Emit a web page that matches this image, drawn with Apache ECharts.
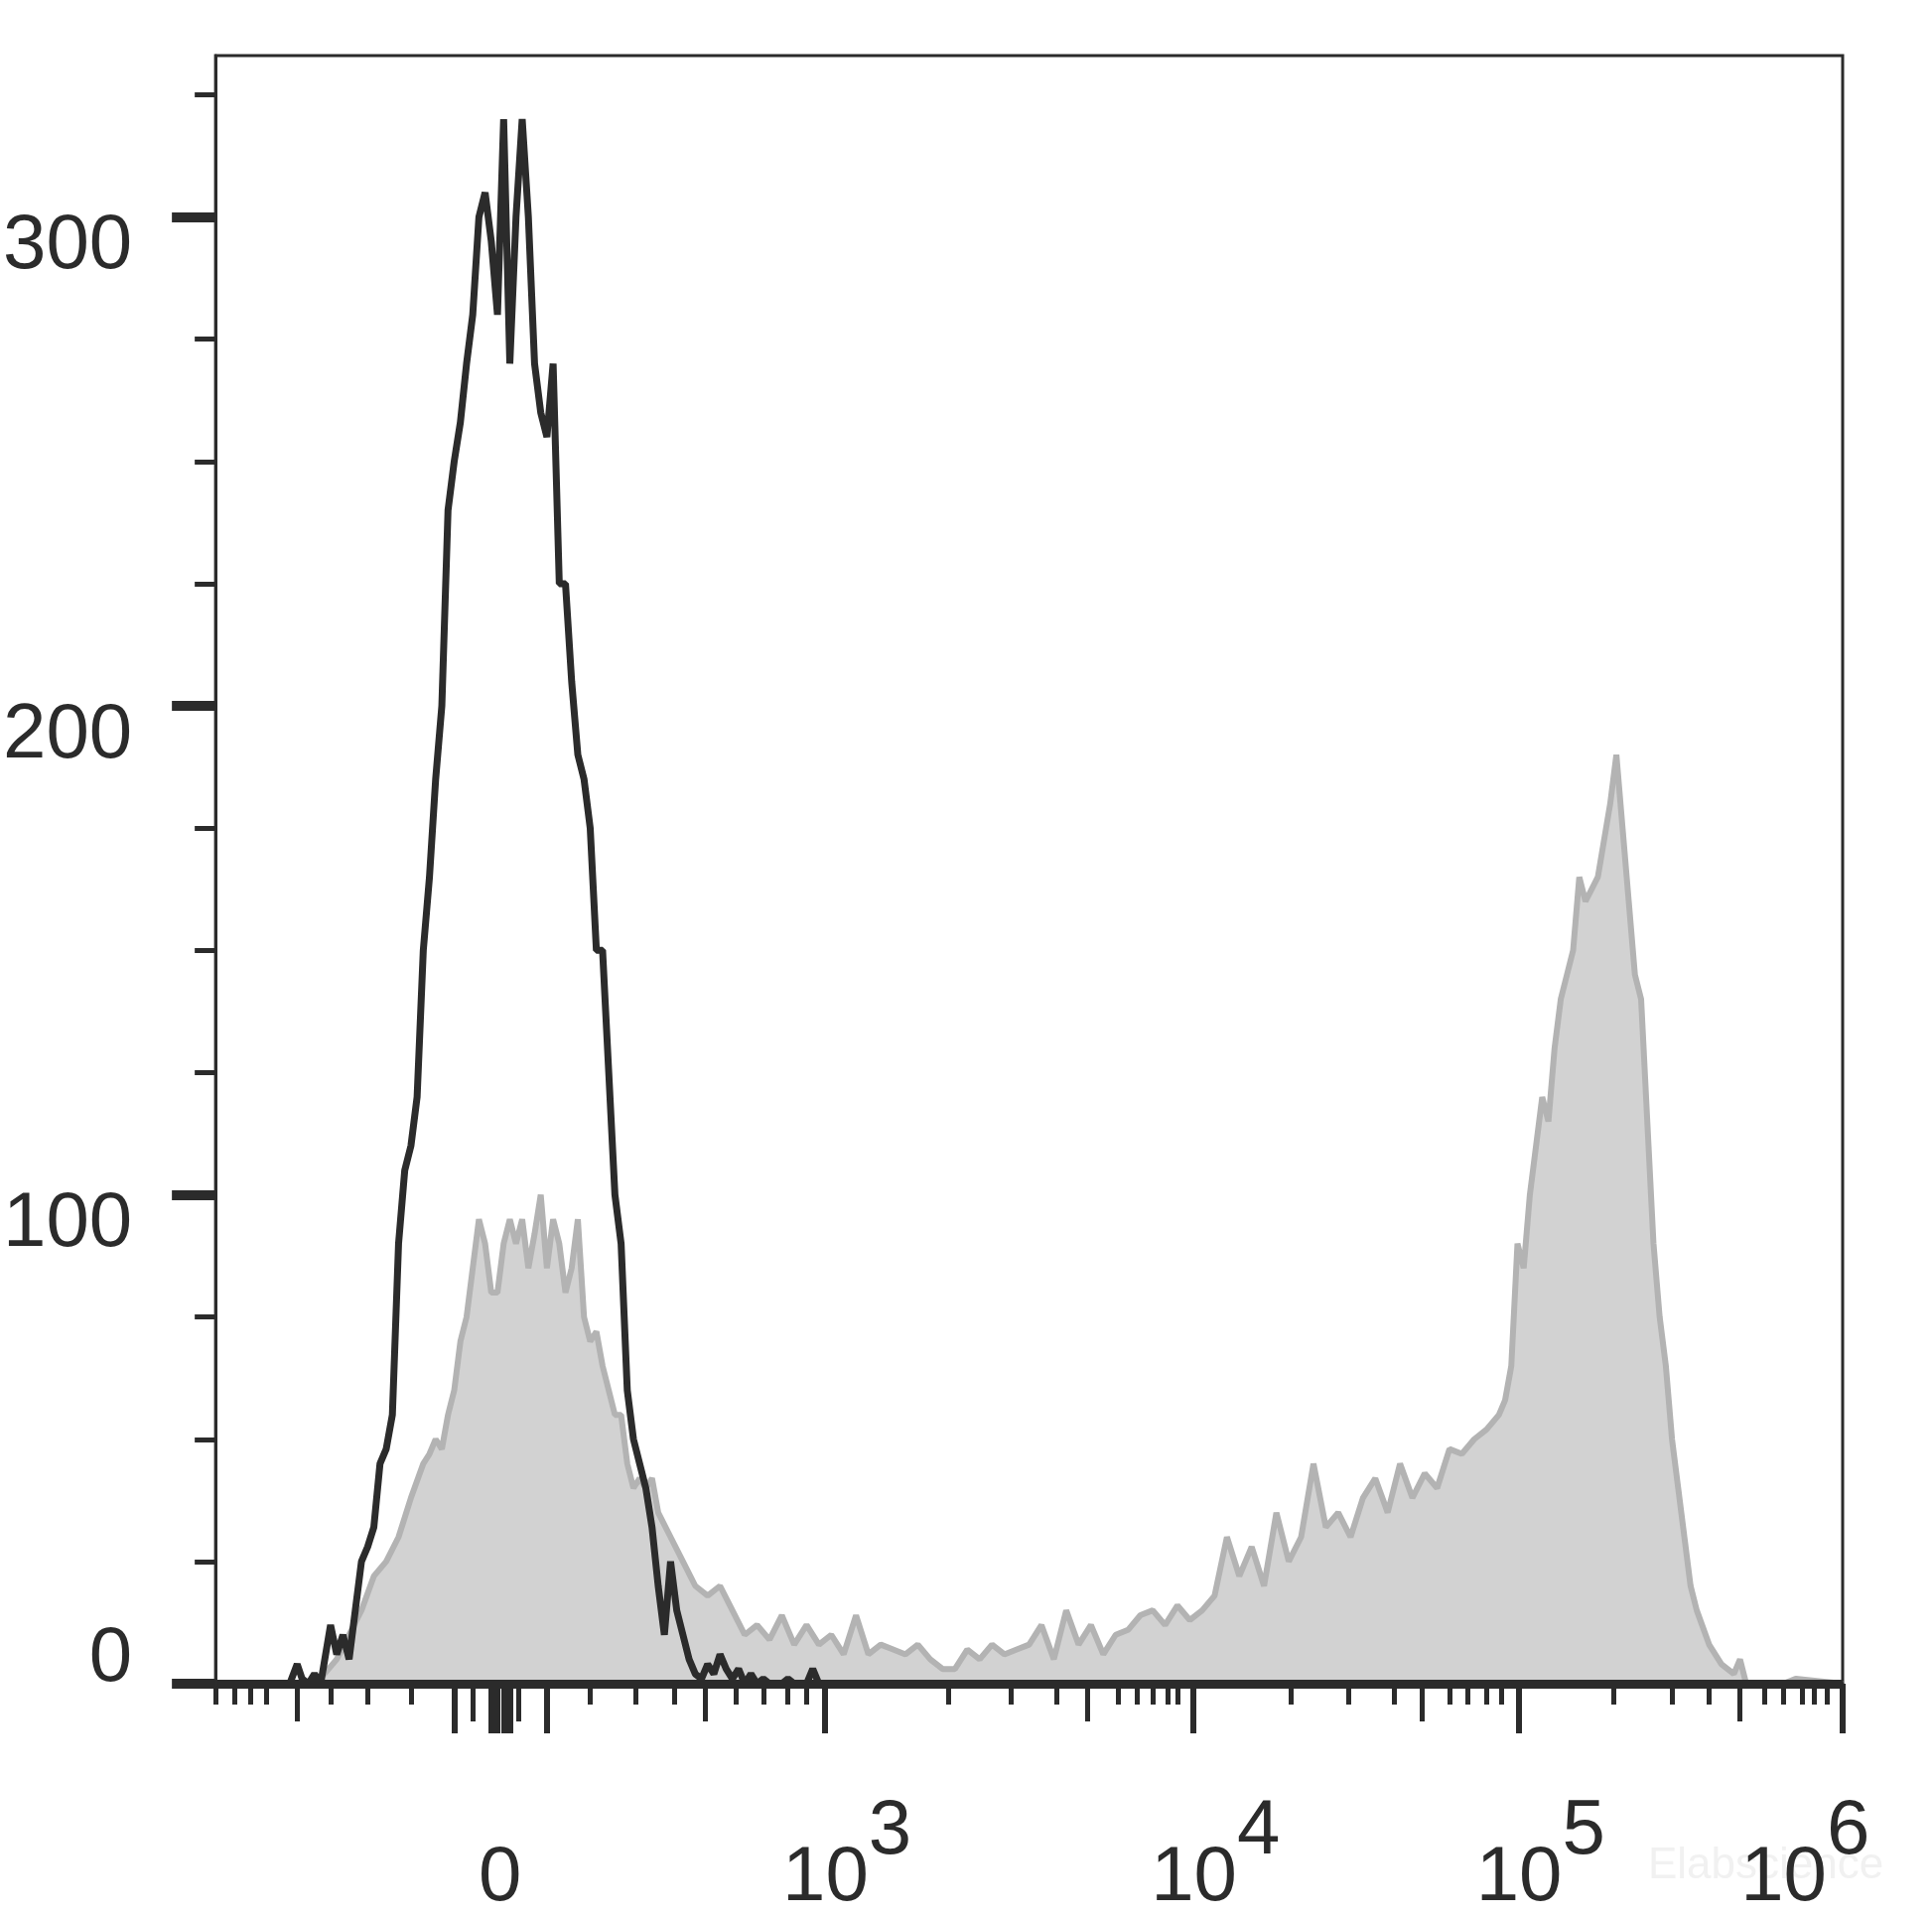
<!DOCTYPE html>
<html><head><meta charset="utf-8">
<script src="https://cdn.jsdelivr.net/npm/echarts@6/dist/echarts.min.js"></script>
<style>html,body{margin:0;padding:0;background:#fff}#c{width:1946px;height:1932px}</style>
</head><body><div id="c"></div>
<script>
// x in channel units (0..1316), y = event count
const blackX = [0,60,66,70,75,80,85,93,98,103,108,113,118,123,128,133,138,143,148,153,158,163,168,173,178,183,188,193,198,203,208,213,218,223,228,233,238,243,248,253,258,263,268,273,278,283,288,293,298,303,308,313,318,323,328,333,338,343,348,353,358,363,368,373,378,383,388,393,398,403,408,413,418,423,428,433,438,443,448,453,458,463,468,473,478,483,488,493,498,503,508,513,518,523,528,1316];
const blackY = [0,0,4,1,0,2,0,12,6,10,5,15,25,28,32,45,48,55,90,105,110,120,150,165,185,200,240,250,258,270,280,300,305,295,280,320,270,300,320,300,270,260,255,270,225,225,205,190,185,175,150,150,125,100,90,60,50,45,40,32,20,10,25,15,10,5,2,1,4,2,6,3,1,3,0,2,0,1,0,0,0,1,0,0,0,3,0,0,0,0,0,0,0,0,0,0];
const grayX = [0,78,88,98,108,118,128,138,148,158,168,173,178,183,188,193,198,203,208,213,218,223,228,233,238,243,248,253,258,263,268,273,278,283,288,293,298,303,308,313,318,323,328,333,338,343,348,353,358,368,378,388,398,408,418,428,438,448,458,468,478,488,498,508,518,528,538,548,558,568,578,588,598,608,618,628,638,648,658,668,678,688,698,708,718,728,738,748,758,768,778,788,798,808,818,828,838,848,858,868,878,888,898,908,918,928,938,948,958,968,978,988,998,1008,1018,1028,1038,1043,1048,1053,1058,1063,1068,1073,1078,1083,1088,1093,1098,1103,1108,1118,1128,1133,1138,1143,1148,1153,1158,1163,1168,1173,1178,1183,1188,1193,1198,1208,1218,1228,1233,1238,1268,1278,1316];
const grayY = [0,0,2,5,10,15,22,25,30,38,45,47,50,48,55,60,70,75,85,95,90,80,80,90,95,90,95,85,92,100,85,95,90,80,85,95,75,70,72,65,60,55,55,45,40,42,40,42,35,30,25,20,18,20,15,10,12,9,14,8,12,8,10,6,14,6,8,7,6,8,5,3,3,7,5,8,6,7,8,12,5,15,8,12,6,10,11,14,15,12,16,13,15,18,30,22,28,20,35,25,30,45,32,35,30,38,42,35,45,38,43,40,48,47,50,52,55,58,65,90,85,100,110,120,115,130,140,145,150,165,160,165,180,190,175,160,145,140,115,90,75,65,50,40,30,20,15,8,4,2,5,0,0,1,0,0];
const yTicks = [0,100,200,300];
const yMinor = [25,50,75,125,150,175,225,250,275,325];
const xMajor = [193,223,228,233,238,268,493,791,1054,1316];
const xMedium = [66,208,245,396,705,976,1233];
const xMinor = [0,15,28,41,93,123,158,303,340,371,421,443,463,478,593,643,680,730,745,758,770,778,870,916,953,998,1013,1028,1040,1131,1178,1208,1253,1268,1283,1293,1303];
const xLabelPos = [230,493,791,1054,1268];
const xLabelText = ['{p0|}{b|0}','{p|}{b|10}{s|3}','{p|}{b|10}{s|4}','{p|}{b|10}{s|5}','{p|}{b|10}{s|6}'];

const chart = echarts.init(document.getElementById('c'));
const font = 'Liberation Sans, Arial, sans-serif';
function xa(vals, len, w, show){
  return {type:'value',min:0,max:1316,position:'bottom',
    axisLine:{show:show,lineStyle:{color:'#2b2b2b',width:3}},
    splitLine:{show:false},
    axisTick:{show:true,customValues:vals,length:len,lineStyle:{color:'#2b2b2b',width:w}},
    axisLabel:{show:false}};
}
const xl = xa(xMajor,50,6,true);
xl.axisLabel = {show:true,customValues:xLabelPos,margin:110,color:'#2b2b2b',
  formatter:v=>xLabelText[xLabelPos.indexOf(v)]||'',
  rich:{b:{fontFamily:font,fontSize:78,lineHeight:125,verticalAlign:'bottom',color:'#2b2b2b'},
        s:{fontFamily:font,fontSize:78,lineHeight:125,verticalAlign:'top',color:'#2b2b2b'},
        p:{width:44},p0:{width:0}}};
chart.setOption({
  animation:false,
  grid:{left:214,right:90,top:56,bottom:236,show:true,borderColor:'#2b2b2b',borderWidth:3,backgroundColor:'transparent'},
  xAxis:[xl, xa(xMedium,38,5,false), xa(xMinor,21,5,false)],
  yAxis:[{type:'value',min:0,max:333,
    axisLine:{show:true,lineStyle:{color:'#2b2b2b',width:3}},
    splitLine:{show:false},
    axisTick:{customValues:yTicks,length:44,lineStyle:{color:'#2b2b2b',width:10}},
    axisLabel:{margin:84,color:'#2b2b2b',customValues:yTicks,
      formatter:v=>v===0?'{z|0}':'{n|'+v+'}',
      rich:{n:{fontFamily:font,fontSize:78,color:'#2b2b2b',padding:[60,0,0,0]},
            z:{fontFamily:font,fontSize:78,color:'#2b2b2b',padding:[0,0,50,0]}}}},
   {type:'value',min:0,max:333,position:'left',
    axisLine:{show:false},splitLine:{show:false},axisLabel:{show:false},
    axisTick:{show:true,customValues:yMinor,length:21,lineStyle:{color:'#2b2b2b',width:5}}}],
  graphic:[{type:'text',left:1660,top:1858,style:{text:'Elabscience',fontFamily:font,fontSize:44,fill:'#f1f1f1'}}],
  series:[
    {type:'line',data:grayX.map((x,i)=>[x,grayY[i]]),symbol:'none',z:2,
     lineStyle:{color:'#b3b3b3',width:6},areaStyle:{color:'#d2d2d2',opacity:1}},
    {type:'line',data:blackX.map((x,i)=>[x,blackY[i]]),symbol:'none',z:3,
     lineStyle:{color:'#2b2b2b',width:7},
     markLine:{symbol:'none',silent:true,label:{show:false},lineStyle:{color:'#2b2b2b',width:9,type:'solid'},data:[{yAxis:0}]}}
  ]
});
</script></body></html>
